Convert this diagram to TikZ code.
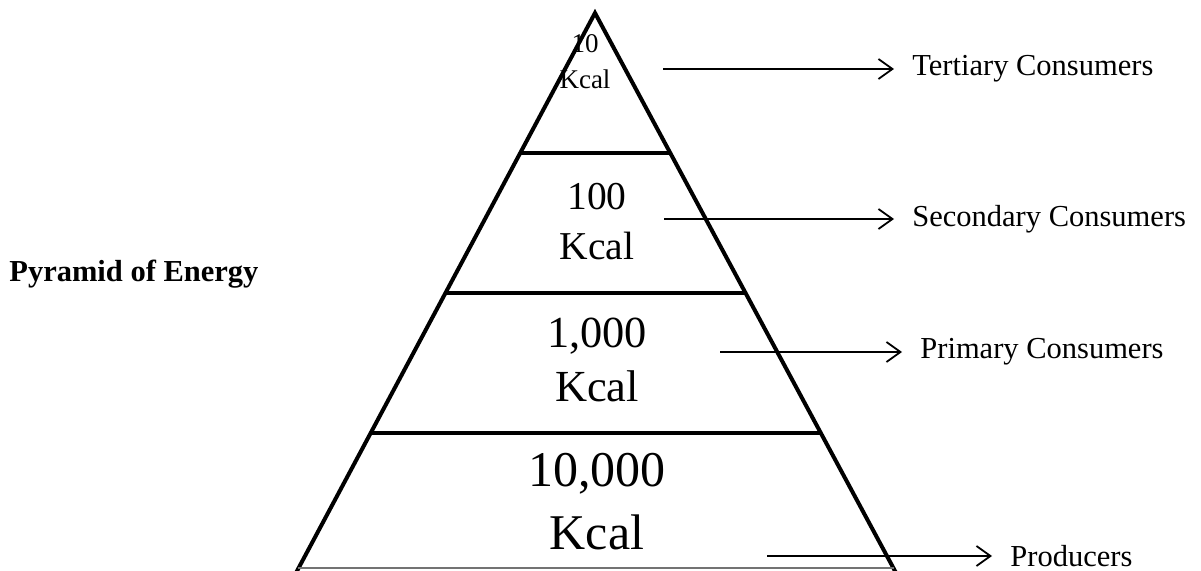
\documentclass[tikz,border=0pt]{standalone}
\usepackage{fontspec}
\setmainfont{Liberation Serif}
\usepackage{tikz}
\usetikzlibrary{positioning,arrows.meta,calc}

\begin{document}
\begin{tikzpicture}[
  x=0.5pt, y=-0.5pt,
  side/.style    = {line width=2pt},
  level/.style   = {line width=2pt},
  amount/.style  = {align=center, inner sep=0pt},
  trophic/.style = {anchor=west, inner sep=2pt, font=\fontsize{15.25}{18}\selectfont},
  arrow/.style   = {-{Straight Barb[length=7pt,width=10pt]}, line width=0.9pt, shorten >=7pt},
]
  \useasboundingbox (0,0) rectangle (1201,571);

  % pyramid
  \coordinate (apex) at (595,13);
  \coordinate (bl) at (297,571);
  \coordinate (br) at (895,571);
  \begin{scope}
    \clip (0,0) rectangle (1201,571);
    \draw[side] ($(apex)!1.02!(bl)$) -- (apex) -- ($(apex)!1.02!(br)$);
  \end{scope}
  \foreach \t in {0.251,0.502,0.753}
    \draw[level] ($(apex)!\t!(bl)$) -- ($(apex)!\t!(br)$);
  \draw[black!55, line width=0.8pt] ($(apex)!0.995!(bl)$) -- ($(apex)!0.995!(br)$);

  % energy in each level
  \node[amount, font=\fontsize{13.5}{18}\selectfont]   (e10)    at (585,62)  {10\\Kcal};
  \node[amount, font=\fontsize{19.75}{25}\selectfont]  (e100)   at (597,222) {100\\Kcal};
  \node[amount, font=\fontsize{22.2}{27}\selectfont]   (e1000)  at (597,360) {1,000\\Kcal};
  \node[amount, font=\fontsize{25}{31.5}\selectfont]   (e10000) at (597,502) {10,000\\Kcal};

  \node[font=\bfseries\fontsize{15.25}{18}\selectfont, anchor=base west, inner sep=0pt]
    (title) at (9,282) {Pyramid of Energy};

  % trophic levels
  \node[trophic] (tert) at (908,69)   {Tertiary Consumers};
  \node[trophic] (sec)  at (908,219)  {Secondary Consumers};
  \node[trophic] (prim) at (916,352)  {Primary Consumers};
  \node[trophic] (prod) at (1006,556) {Producers};

  \coordinate (t0) at (663,69);
  \coordinate (s0) at (664,219);
  \coordinate (p0) at (720,352);
  \coordinate (r0) at (767,556);
  \draw[arrow] (t0) -- (tert);
  \draw[arrow] (s0) -- (sec);
  \draw[arrow] (p0) -- (prim);
  \draw[arrow] (r0) -- (prod);
\end{tikzpicture}
\end{document}
